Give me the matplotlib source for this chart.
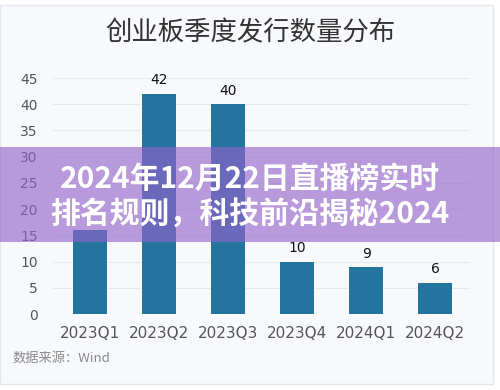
import numpy as np
import matplotlib.pyplot as plt
from matplotlib.patches import Rectangle

plt.rcParams['font.family'] = ['Noto Sans CJK SC', 'DejaVu Sans']

quarters = ['2023Q1', '2023Q2', '2023Q3', '2023Q4', '2024Q1', '2024Q2']
counts = [16, 42, 40, 10, 9, 6]
# the first bar's label sits behind the banner in the picture
show_label = [False, True, True, True, True, True]
yticks = [0, 5, 10, 15, 20, 25, 30, 35, 40, 45]

title = '创业板季度发行数量分布'
source = '数据来源：Wind'
banner = '2024年12月22日直播榜实时\n排名规则，科技前沿揭秘2024'

W, H = 500, 390
fig = plt.figure(figsize=(W / 100, H / 100), dpi=100)
fig.patch.set_facecolor('white')

# card background
fig.patches.append(Rectangle((0, 1 - 384 / H), 493 / W, 379 / H, transform=fig.transFigure,
                             facecolor='#f7f9fc', edgecolor='#e4e7ec', lw=1, zorder=-5))

ax = fig.add_axes([53 / W, 1 - 314 / H, (470 - 53) / W, (314 - 78) / H])
ax.set_facecolor('none')
x = np.arange(len(quarters))
ax.bar(x, counts, width=0.49, color='#2474a0', zorder=2)
for xi, v, show in zip(x, counts, show_label):
    if show:
        ax.text(xi, v + 1.2, str(v), ha='center', va='bottom', fontsize=10,
                color='#111111', family='DejaVu Sans')

ax.set_xlim(-0.53, 5.5)
ax.set_ylim(0, 45)
ax.set_yticks(yticks)
ax.set_xticks(x)
ax.set_xticklabels(quarters, fontsize=11, color='#555555', family='DejaVu Sans')
ax.tick_params(axis='y', labelsize=10, colors='#555555', length=0, pad=11)
ax.tick_params(axis='x', length=0, pad=9)
for lbl in ax.get_yticklabels():
    lbl.set_family('DejaVu Sans')
ax.grid(axis='y', color='#e6e8ec', lw=0.8, zorder=0)
for s in ax.spines.values():
    s.set_visible(False)

fig.text(250 / W, 1 - 33 / H, title, ha='center', va='center', fontsize=19, color='#333333')
fig.text(12 / W, 1 - 358 / H, source, ha='left', va='center', fontsize=9.5, color='#8a8a8a')

# overlay banner
fig.patches.append(Rectangle((0, 1 - 242 / H), 1, 95 / H, transform=fig.transFigure,
                             facecolor=(146 / 255, 98 / 255, 202 / 255), alpha=0.63,
                             edgecolor='none', zorder=5))
fig.text(250 / W, 1 - 196 / H, banner, ha='center', va='center', fontsize=21.5,
         fontweight='heavy', color='white', linespacing=1.2, zorder=6)

fig.savefig('out.png', dpi=100)
